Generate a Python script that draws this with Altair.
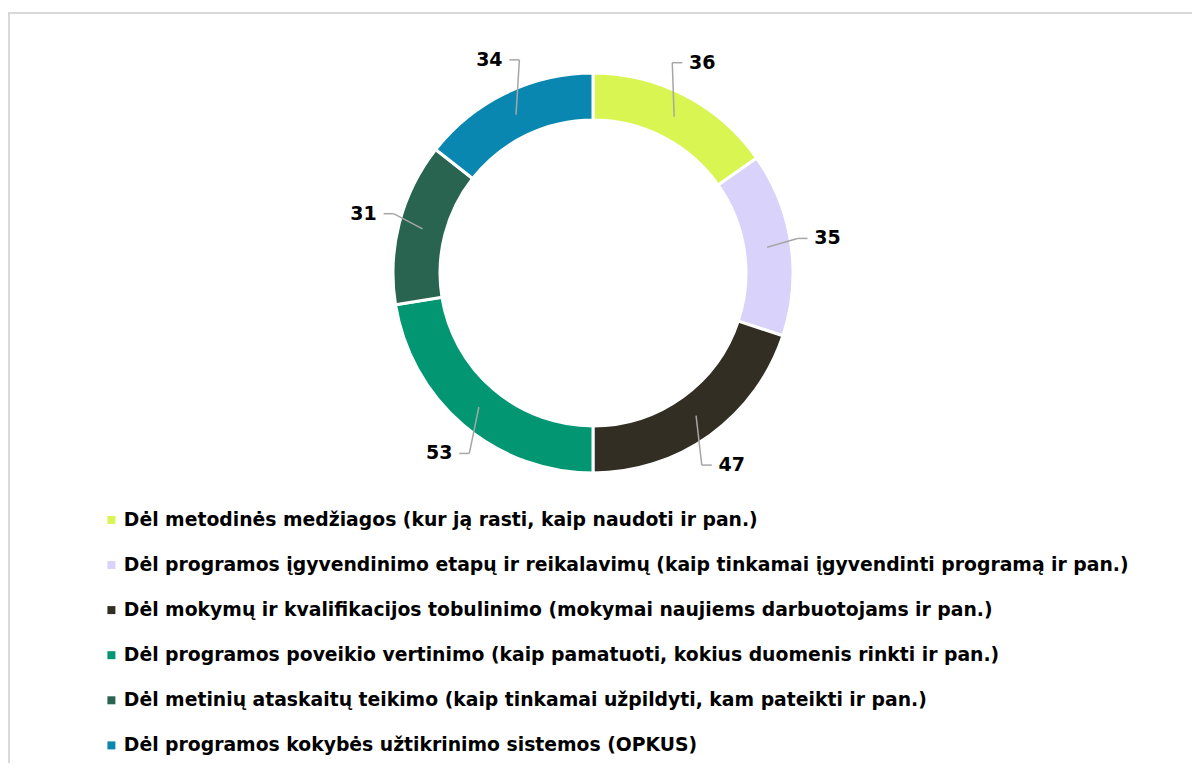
import altair as alt
import pandas as pd
import numpy as np

categories = [
    "Dėl metodinės medžiagos (kur ją rasti, kaip naudoti ir pan.)",
    "Dėl programos įgyvendinimo etapų ir reikalavimų (kaip tinkamai įgyvendinti programą ir pan.)",
    "Dėl mokymų ir kvalifikacijos tobulinimo (mokymai naujiems darbuotojams ir pan.)",
    "Dėl programos poveikio vertinimo (kaip pamatuoti, kokius duomenis rinkti ir pan.)",
    "Dėl metinių ataskaitų teikimo (kaip tinkamai užpildyti, kam pateikti ir pan.)",
    "Dėl programos kokybės užtikrinimo sistemos (OPKUS)",
]
values = [36, 35, 47, 53, 31, 34]
colors = ["#d9f552", "#d9d2fa", "#332e24", "#039673", "#286450", "#0a87b0"]

W, H = 1184, 755
CX, CY = 585, 265
R_IN, R_OUT = 153, 200
R_LEAD, R_LABEL = 176, 237
FONT = "DejaVu Sans"

df = pd.DataFrame({"cat": categories, "value": values, "order": list(range(len(values)))})
vals = np.array(values, dtype=float)
mid = (np.cumsum(vals) - vals / 2) / vals.sum() * 2 * np.pi
side = np.sign(np.sin(mid))
half = 13
gap = 7
df["px"] = CX + R_LEAD * np.sin(mid)
df["py"] = CY - R_LEAD * np.cos(mid)
df["lx"] = CX + R_LABEL * np.sin(mid)
df["ly"] = CY - R_LABEL * np.cos(mid)
df["ex"] = df["lx"] - side * (half + gap + 10)
df["hx"] = df["lx"] - side * (half + gap)
df["label"] = [str(v) for v in values]

xs = alt.Scale(domain=[0, W], range=[0, W], nice=False, zero=False)
ys = alt.Scale(domain=[0, H], range=[0, H], nice=False, zero=False)

base = alt.Chart(df)

arcs = base.mark_arc(innerRadius=R_IN, outerRadius=R_OUT, stroke="white", strokeWidth=3).encode(
    theta=alt.Theta("value:Q", stack=True),
    order=alt.Order("order:Q"),
    color=alt.Color(
        "cat:N",
        scale=alt.Scale(domain=categories, range=colors),
        sort=categories,
        legend=alt.Legend(
            title=None, orient="none", legendX=94, legendY=502.5,
            symbolType="square", symbolSize=64, symbolStrokeWidth=0,
            labelFontSize=18.8, labelFont=FONT, labelFontWeight="bold", labelColor="black",
            rowPadding=25.1, labelOffset=3, labelLimit=1200, padding=0,
        ),
    ),
    x=alt.value(CX),
    y=alt.value(CY),
)

lead1 = base.mark_rule(color="#a6a6a6", strokeWidth=1.5).encode(
    x=alt.X("px:Q", scale=xs, axis=None),
    y=alt.Y("py:Q", scale=ys, axis=None),
    x2="ex:Q",
    y2="ly:Q",
)
lead2 = base.mark_rule(color="#a6a6a6", strokeWidth=1.5).encode(
    x=alt.X("ex:Q", scale=xs, axis=None),
    y=alt.Y("ly:Q", scale=ys, axis=None),
    x2="hx:Q",
    y2="ly:Q",
)
labels = base.mark_text(fontSize=19, fontWeight="bold", font=FONT, color="black",
                        align="center", baseline="middle").encode(
    x=alt.X("lx:Q", scale=xs, axis=None),
    y=alt.Y("ly:Q", scale=ys, axis=None),
    text="label:N",
)

frame_df = pd.DataFrame({"k": [0]})
border_left = alt.Chart(frame_df).mark_rule(color="#d9d9d9", strokeWidth=2).encode(
    x=alt.value(1), y=alt.value(4), y2=alt.value(H)
)
border_top = alt.Chart(frame_df).mark_rule(color="#d9d9d9", strokeWidth=2).encode(
    x=alt.value(0), x2=alt.value(W), y=alt.value(5)
)

chart = alt.layer(border_left, border_top, arcs, lead1, lead2, labels).properties(
    width=W, height=H, autosize=alt.AutoSizeParams(type="none"), padding=0,
    background="white",
).configure_view(stroke=None)

chart.save("out.html", embed_options={"renderer": "svg", "actions": False})
